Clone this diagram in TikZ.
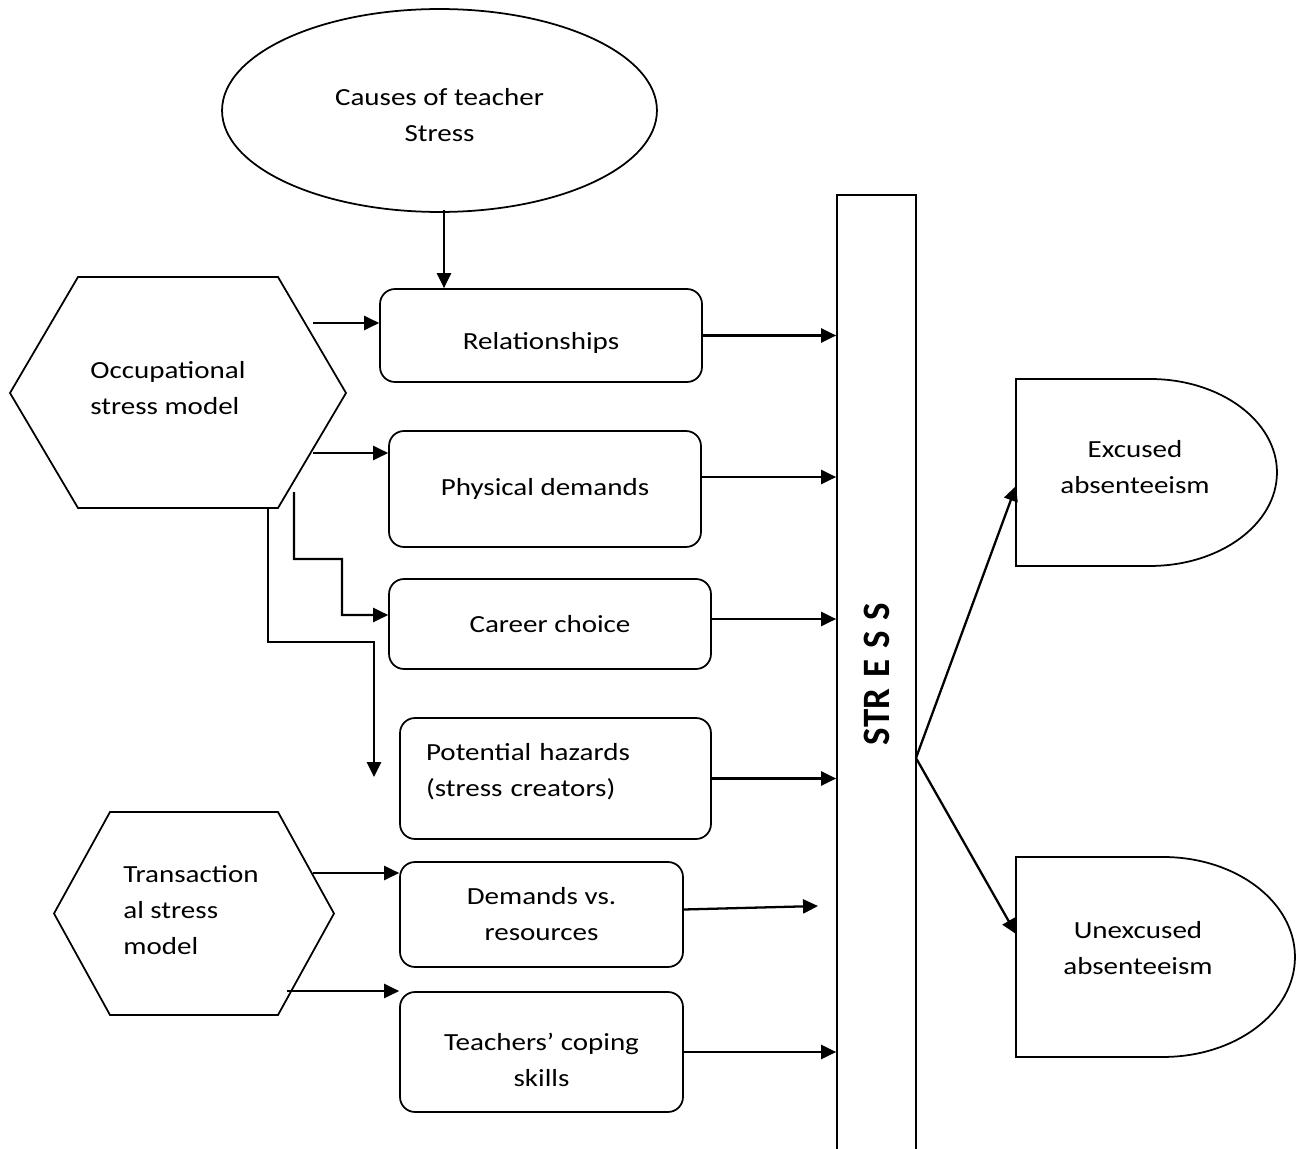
\documentclass[tikz,border=0pt]{standalone}
\usepackage{fontspec}
\setmainfont{Carlito}[FakeStretch=1.18]
\newfontfamily\barfont{Carlito}
\usepackage{graphicx}
\usetikzlibrary{arrows.meta,shapes.geometric}

\begin{document}
\begin{tikzpicture}[x=0.02cm, y=-0.02cm]
	\tikzstyle{txt}
	  =[font=\fontsize{14}{20.5}\selectfont]
	\tikzstyle{box}
	  =[draw, rounded corners=0.3cm, line width=1pt, txt, align=center]
	\tikzstyle{outline}
	  =[line width=1pt]
	\tikzstyle{link}
	  =[-{Triangle[length=8.5pt,width=8pt]}, line width=1.3pt]

	\useasboundingbox (0,0) rectangle (1303,1149);

	\node[draw, ellipse, line width=1pt, minimum width=8.7cm,
	minimum height=4.06cm,
	label={[txt, align=center, yshift=-0.1cm]center:{Causes of teacher\\Stress}}] (cause)
	  at (439.5,110.5) {};

	\draw[outline] (10,393) -- (78,277) -- (278,277) -- (346,393)
	  -- (278,508) -- (78,508) -- cycle;
	\node[txt, anchor=west, align=left, inner sep=0pt] (occ)
	  at (90,388) {Occupational\\stress model};
	\draw[outline] (54,913.5) -- (110,812) -- (278,812) -- (334,913.5)
	  -- (278,1015) -- (110,1015) -- cycle;
	\node[txt, anchor=west, align=left, inner sep=0pt] (trans)
	  at (123,910) {Transaction\\al stress\\model};

	\node[box, minimum width=6.44cm, minimum height=1.86cm,
	label={[txt, yshift=-0.15cm]center:Relationships}] (rel)
	  at (541,335.5) {};
	\node[box, minimum width=6.24cm, minimum height=2.32cm] (phys)
	  at (545,489) {Physical demands};
	\node[box, minimum width=6.44cm, minimum height=1.8cm] (career)
	  at (550,624) {Career choice};
	\node[box, minimum width=6.22cm, minimum height=2.42cm,
	label={[txt, align=left, text width=5.18cm, yshift=0.14cm]center:{Potential hazards\\(stress creators)}}] (hazard)
	  at (555.5,778.5) {};
	\node[box, minimum width=5.66cm, minimum height=2.1cm] (dem)
	  at (541.5,914.5) {Demands vs.\\resources};
	\node[box, minimum width=5.66cm, minimum height=2.4cm,
	label={[txt, align=center, yshift=-0.15cm]center:{Teachers’ coping\\skills}}] (cope)
	  at (541.5,1052) {};

	\node[draw, line width=1pt, rotate=90, minimum width=19.16cm,
	minimum height=1.58cm, inner sep=0pt] (stressbar)
	  at (876.5,674) {\barfont\bfseries\fontsize{21}{25}\selectfont
	  \scalebox{1}[1.05]{STR\hspace{0.3em}E\hspace{0.3em}S\hspace{0.3em}S}};

	\draw[outline] (1016,379) -- (1150,379)
	  arc[start angle=90, end angle=-90, x radius=2.54cm, y radius=1.87cm]
	  -- (1016,566) -- cycle;
	\node[txt, align=center] (exc)
	  at (1135,467) {Excused\\absenteeism};
	\draw[outline] (1016,857) -- (1163,857)
	  arc[start angle=90, end angle=-90, x radius=2.64cm, y radius=2cm]
	  -- (1016,1057) -- cycle;
	\node[txt, align=center] (unexc)
	  at (1138,948) {Unexcused\\absenteeism};

	\coordinate (cause-out) at (444,210);
	\coordinate (occ-a) at (313,323);
	\coordinate (occ-b) at (313,453);
	\coordinate (occ-c) at (294,492);
	\coordinate (occ-d) at (268,508);
	\coordinate (haz-in) at (374,777);
	\coordinate (trans-a) at (313,873);
	\coordinate (trans-b) at (287,991);
	\coordinate (phys-out) at ([yshift=0.24cm]phys.east);
	\coordinate (career-out) at ([yshift=0.1cm]career.east);
	\coordinate (dem-out) at ([yshift=0.1cm]dem.east);
	\coordinate (dem-end) at (818,906);
	\coordinate (split) at (916,758);
	\coordinate (exc-in) at (1016,486);
	\coordinate (unexc-in) at (1016,934);

	\draw[link] (cause-out) -- (cause-out |- rel.north);
	\draw[link] (occ-a) -- (occ-a -| rel.west);
	\draw[link] (occ-b) -- (occ-b -| phys.west);
	\draw[link] (occ-c) -- ++(0,67) -| (342,615)
	  -- ([yshift=0.18cm]career.west);
	\draw[link] (occ-d) -- ++(0,134) -| (haz-in);
	\draw[link] (trans-a) -- (trans-a -| dem.west);
	\draw[link] (trans-b) -- (trans-b -| cope.west);

	\draw[link] (rel.east) -- (rel.east -| stressbar.north);
	\draw[link] (phys-out) -- (phys-out -| stressbar.north);
	\draw[link] (career-out) -- (career-out -| stressbar.north);
	\draw[link] (hazard.east) -- (hazard.east -| stressbar.north);
	\draw[link] (dem-out) -- (dem-end);
	\draw[link] (cope.east) -- (cope.east -| stressbar.north);

	\draw[link] (split) -- (exc-in);
	\draw[link] (split) -- (unexc-in);
\end{tikzpicture}
\end{document}
